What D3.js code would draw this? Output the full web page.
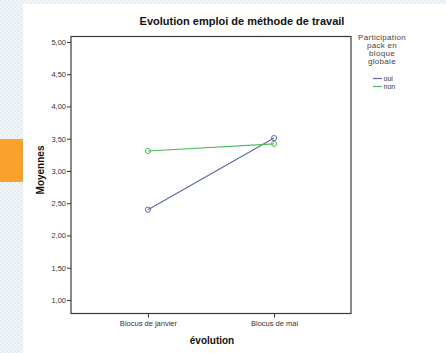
<!DOCTYPE html>
<html>
<head>
<meta charset="utf-8">
<script src="https://d3js.org/d3.v7.min.js"></script>
<style>
  body { margin: 0; background: #fff; }
  svg { display: block; font-family: "Liberation Sans", Arial, sans-serif; }
</style>
</head>
<body>
<svg width="446" height="353"></svg>
<script>
var categories = ["Blocus de janvier", "Blocus de mai"];
var oui = [2.40, 3.51];
var non = [3.31, 3.42];
var yTicks = [1, 1.5, 2, 2.5, 3, 3.5, 4, 4.5, 5];
var legendTitle = ["Participation", "pack en", "bloque", "globale"];
var seriesNames = ["oui", "non"];
var seriesColors = ["#5d6aa6", "#4dbb5b"];

const svg = d3.select("svg");

// patterned page background (left + top strips) and orange tab
const defs = svg.append("defs");
const pat = defs.append("pattern").attr("id", "chk")
  .attr("width", 4).attr("height", 4).attr("patternUnits", "userSpaceOnUse");
pat.append("rect").attr("width", 4).attr("height", 4).attr("fill", "#f3f6f9");
pat.append("rect").attr("width", 2).attr("height", 2).attr("fill", "#e6edf3");
pat.append("rect").attr("x", 2).attr("y", 2).attr("width", 2).attr("height", 2).attr("fill", "#e6edf3");

svg.append("rect").attr("width", 446).attr("height", 4).attr("fill", "url(#chk)");
svg.append("rect").attr("width", 23).attr("height", 353).attr("fill", "url(#chk)");
svg.append("rect").attr("x", 0).attr("y", 139).attr("width", 23).attr("height", 43).attr("fill", "#fba02a");

const pLeft = 71, pRight = 351, pTop = 36.5, pBottom = 313.5;

const y = d3.scaleLinear().domain([0.79, 5.085]).range([pBottom, pTop]);
const x = d3.scalePoint().domain(categories).range([pLeft, pRight]).padding(0.61);

// frame
svg.append("rect")
  .attr("x", pLeft).attr("y", pTop)
  .attr("width", pRight - pLeft).attr("height", pBottom - pTop)
  .attr("fill", "none").attr("stroke", "#3a3a3a").attr("stroke-width", 1.2);

// y axis
const yAxis = svg.append("g")
  .attr("transform", `translate(${pLeft},0)`)
  .call(d3.axisLeft(y).tickValues(yTicks).tickSize(4).tickPadding(1)
    .tickFormat(d => d3.format(".2f")(d).replace(".", ",")));
yAxis.select(".domain").remove();
yAxis.selectAll("line").attr("stroke", "#333");
yAxis.selectAll("text").attr("font-size", 7.5).attr("fill", "#333")
  .attr("font-family", "Liberation Sans, Arial, sans-serif");

// x axis
const xAxis = svg.append("g")
  .attr("transform", `translate(0,${pBottom})`)
  .call(d3.axisBottom(x).tickSize(4).tickPadding(3));
xAxis.select(".domain").remove();
xAxis.selectAll("line").attr("stroke", "#333");
xAxis.selectAll("text").attr("font-size", 7.5).attr("fill", "#333")
  .attr("font-family", "Liberation Sans, Arial, sans-serif");

// titles
svg.append("text").attr("x", 242).attr("y", 25)
  .attr("text-anchor", "middle").attr("font-size", 11).attr("font-weight", "bold")
  .attr("fill", "#111").text("Evolution emploi de méthode de travail");

svg.append("text").attr("x", 212).attr("y", 344)
  .attr("text-anchor", "middle").attr("font-size", 10).attr("font-weight", "bold")
  .attr("fill", "#111").text("évolution");

svg.append("text")
  .attr("transform", `translate(44,170) rotate(-90)`)
  .attr("text-anchor", "middle").attr("font-size", 10).attr("font-weight", "bold")
  .attr("fill", "#111").text("Moyennes");

// series
const series = [oui, non];
const line = d3.line().x((d, i) => x(categories[i])).y(d => y(d));
series.forEach((vals, k) => {
  svg.append("path").datum(vals)
    .attr("d", line).attr("fill", "none")
    .attr("stroke", seriesColors[k]).attr("stroke-width", 1.2);
  svg.selectAll(null).data(vals).enter().append("circle")
    .attr("cx", (d, i) => x(categories[i])).attr("cy", d => y(d))
    .attr("r", 2.6).attr("fill", "none")
    .attr("stroke", seriesColors[k]).attr("stroke-width", 1);
});

// legend
const lg = svg.append("g");
lg.selectAll("text.t").data(legendTitle).enter().append("text")
  .attr("x", 382).attr("y", (d, i) => 39.5 + i * 8.3)
  .attr("text-anchor", "middle").attr("font-size", 8).attr("fill", "#444")
  .attr("letter-spacing", 0.3)
  .text(d => d);
seriesNames.forEach((n, k) => {
  const yy = 78.5 + k * 8;
  lg.append("line").attr("x1", 373).attr("x2", 382).attr("y1", yy).attr("y2", yy)
    .attr("stroke", seriesColors[k]).attr("stroke-width", 1.2);
  lg.append("text").attr("x", 383.5).attr("y", yy + 2.5)
    .attr("font-size", 7).attr("fill", "#333").text(n);
});
</script>
</body>
</html>
